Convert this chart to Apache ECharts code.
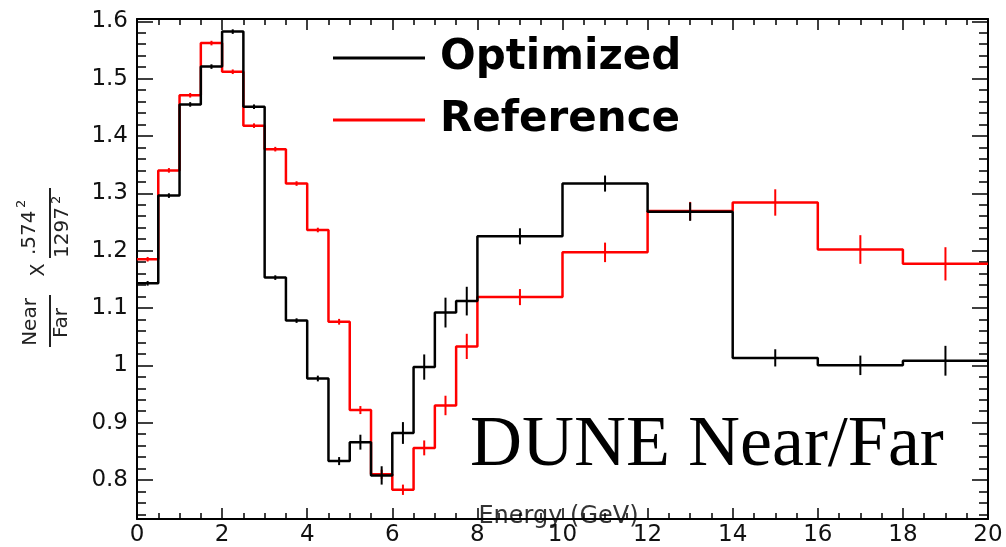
<!DOCTYPE html>
<html><head><meta charset="utf-8">
<script src="https://cdn.jsdelivr.net/npm/echarts@6/dist/echarts.min.js"></script>
<style>html,body{margin:0;padding:0;background:#fff}#c{width:1006px;height:547px}</style>
</head><body><div id="c"></div>
<script>
// Bin edges (GeV)
const binEdges = [0,0.5,1,1.5,2,2.5,3,3.5,4,4.5,5,5.5,6,6.5,7,7.5,8,10,12,14,16,18,20];
// Near/Far ratio, Optimized beam
const optimized    = [1.143,1.296,1.455,1.521,1.582,1.451,1.153,1.078,0.977,0.833,0.866,0.808,0.882,0.997,1.092,1.112,1.225,1.317,1.268,1.013,1.000,1.008];
const optimizedErr = [0.004,0.004,0.004,0.004,0.004,0.004,0.004,0.004,0.005,0.007,0.013,0.016,0.019,0.022,0.026,0.025,0.014,0.014,0.016,0.015,0.017,0.026];
// Near/Far ratio, Reference beam
const reference    = [1.185,1.340,1.471,1.562,1.512,1.418,1.377,1.317,1.236,1.076,0.922,0.810,0.783,0.856,0.930,1.033,1.119,1.197,1.269,1.284,1.202,1.177];
const referenceErr = [0.004,0.004,0.004,0.004,0.004,0.004,0.004,0.004,0.004,0.005,0.007,0.008,0.009,0.013,0.017,0.022,0.014,0.017,0.016,0.023,0.025,0.029];
const seriesNames = ['Optimized','Reference'];
const xName = 'Energy (GeV)';
const chartLabel = 'DUNE Near/Far';

function stepData(vals){
  const d = vals.map((v,i)=>[binEdges[i], v]);
  d.push([binEdges[binEdges.length-1], vals[vals.length-1]]);
  return d;
}
function errData(vals, errs){
  return vals.map((v,i)=>[(binEdges[i]+binEdges[i+1])/2, v, errs[i]]);
}
function errRender(color){
  return function(params, api){
    const x = api.value(0), y = api.value(1), e = api.value(2);
    const p1 = api.coord([x, y-e]), p2 = api.coord([x, y+e]);
    return {type:'line', shape:{x1:p1[0],y1:p1[1],x2:p2[0],y2:p2[1]}, style:{stroke:color, lineWidth:2}};
  };
}

const FONT = 'DejaVu Sans';
const yMin = 0.732, yMax = 1.604;
const tickColor = '#000';

function xAx(pos, labels){
  return {
    type:'value', min:0, max:20, interval:2, position:pos,
    axisLine:{show:true, onZero:false, lineStyle:{color:'#000', width:2}},
    axisTick:{show:true, inside:true, length:11, lineStyle:{color:tickColor, width:1.5}},
    minorTick:{show:true, splitNumber:4, length:6, lineStyle:{color:tickColor, width:1.5}},
    splitLine:{show:false}, minorSplitLine:{show:false},
    axisLabel:{show:labels, fontFamily:FONT, fontSize:23, color:'#111', margin:5},
    name: labels ? xName : '', nameLocation:'middle', nameGap:-14, nameMoveOverlap:false,
    nameTextStyle:{fontFamily:FONT, fontSize:24, color:'#333', padding:[0,0,0,-8]}
  };
}
function yAx(pos, labels){
  return {
    type:'value', min:yMin, max:yMax, splitNumber:9, position:pos,
    axisLine:{show:true, onZero:false, lineStyle:{color:'#000', width:2}},
    axisTick:{show:true, inside:true, length:16, lineStyle:{color:tickColor, width:1.5}},
    minorTick:{show:true, splitNumber:5, length:9, lineStyle:{color:tickColor, width:1.5}},
    splitLine:{show:false}, minorSplitLine:{show:false},
    axisLabel:{show:labels, showMinLabel:false, showMaxLabel:false, fontFamily:FONT, fontSize:23, color:'#111', margin:9}
  };
}

const chart = echarts.init(document.getElementById('c'), null, {renderer:'canvas'});
chart.setOption({
  animation:false,
  backgroundColor:'#fff',
  grid:{left:137, right:18, top:19, bottom:28, containLabel:false, outerBoundsMode:'none'},
  xAxis:[xAx('bottom', true), xAx('top', false)],
  yAxis:[yAx('left', true), yAx('right', false)],
  legend:{
    data:seriesNames, orient:'vertical', left:328, top:32,
    itemWidth:92, itemHeight:3, itemGap:20, icon:'rect',
    textStyle:{fontFamily:FONT, fontWeight:'bold', fontSize:42, color:'#000', padding:[0,0,0,10]}
  },
  series:[
    {name:seriesNames[1], type:'line', step:'end', data:stepData(reference), showSymbol:false, symbol:'none',
     lineStyle:{color:'#ff0000', width:2.5}, itemStyle:{color:'#ff0000'}, z:2},
    {name:seriesNames[1]+'_err', type:'custom', data:errData(reference, referenceErr), renderItem:errRender('#ff0000'),
     encode:{x:0, y:1}, z:3},
    {name:seriesNames[0], type:'line', step:'end', data:stepData(optimized), showSymbol:false, symbol:'none',
     lineStyle:{color:'#000', width:2.5}, itemStyle:{color:'#000'}, z:4},
    {name:seriesNames[0]+'_err', type:'custom', data:errData(optimized, optimizedErr), renderItem:errRender('#000'),
     encode:{x:0, y:1}, z:5}
  ],
  graphic:[
    {type:'text', x:470, y:446, style:{text:chartLabel, fontSize:72, fontFamily:'Liberation Serif', fill:'#000', verticalAlign:'middle', align:'left'}},
    {type:'group', x:47, y:267, rotation:Math.PI/2, children:[
      {type:'text', x:-55, y:-6, style:{text:'Near', fontSize:20, fontFamily:FONT, fill:'#222', align:'center', verticalAlign:'bottom'}},
      {type:'line', shape:{x1:-80, y1:3, x2:-28, y2:3}, style:{stroke:'#222', lineWidth:2}},
      {type:'text', x:-56, y:5, style:{text:'Far', fontSize:20, fontFamily:FONT, fill:'#222', align:'center', verticalAlign:'top'}},
      {type:'text', x:-3, y:2, style:{text:'X', fontSize:19, fontFamily:FONT, fill:'#222', align:'center', verticalAlign:'bottom'}},
      {type:'text', x:12, y:-7, style:{text:'.574', fontSize:20, fontFamily:FONT, fill:'#222', align:'left', verticalAlign:'bottom'}},
      {type:'text', x:59, y:-19, style:{text:'2', fontSize:13, fontFamily:FONT, fill:'#222', align:'left', verticalAlign:'bottom'}},
      {type:'line', shape:{x1:9, y1:3, x2:79, y2:3}, style:{stroke:'#222', lineWidth:2}},
      {type:'text', x:9, y:6, style:{text:'1297', fontSize:20, fontFamily:FONT, fill:'#222', align:'left', verticalAlign:'top'}},
      {type:'text', x:63, y:3, style:{text:'2', fontSize:13, fontFamily:FONT, fill:'#222', align:'left', verticalAlign:'top'}}
    ]}
  ]
});
</script>
</body></html>
